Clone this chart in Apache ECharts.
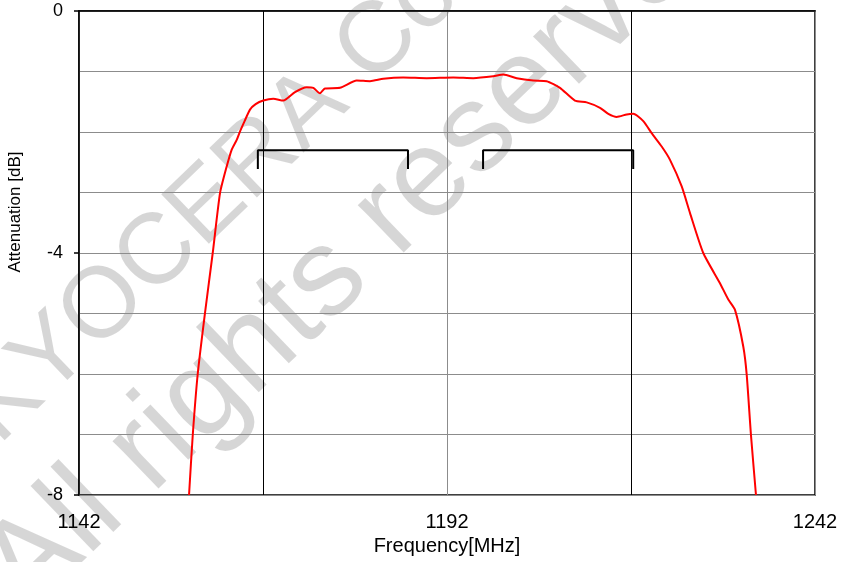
<!DOCTYPE html>
<html>
<head>
<meta charset="utf-8">
<script src="https://cdn.jsdelivr.net/npm/echarts@6/dist/echarts.min.js"></script>
<style>html,body{margin:0;padding:0;background:#fff;}#c{width:842px;height:562px;}</style>
</head>
<body>
<div id="c"></div>
<script>
// Frequency response (MHz, dB)
var freq = [1156.95, 1157.45, 1158.13, 1159.12, 1160.17, 1161.16, 1162.0, 1162.75, 1163.43, 1163.88, 1164.5, 1165.23, 1166.0, 1167.04, 1168.40, 1169.76, 1171.35, 1172.94, 1173.83, 1174.74, 1175.42, 1177.46, 1179.73, 1181.54, 1183.34, 1186.06, 1189.24, 1192.86, 1195.57, 1198.29, 1199.65, 1201.47, 1203.73, 1205.54, 1207.35, 1209.38, 1210.98, 1212.79, 1213.92, 1215.06, 1216.42, 1217.31, 1218.67, 1219.81, 1221.17, 1222.30, 1223.89, 1225.02, 1226.82, 1229.09, 1230.22, 1231.13, 1232.26, 1232.72, 1233.30, 1233.98];
var atten = [-8.0, -7.02, -6.00, -4.99, -4.00, -3.01, -2.60, -2.29, -2.13, -1.99, -1.82, -1.63, -1.54, -1.48, -1.45, -1.48, -1.34, -1.26, -1.27, -1.36, -1.28, -1.27, -1.15, -1.16, -1.12, -1.10, -1.11, -1.10, -1.11, -1.08, -1.05, -1.11, -1.15, -1.16, -1.27, -1.48, -1.51, -1.60, -1.70, -1.75, -1.71, -1.70, -1.82, -2.02, -2.24, -2.46, -2.90, -3.34, -4.00, -4.50, -4.77, -4.94, -5.55, -6.01, -7.01, -8.0];
// Passband brackets
var band1X = [1166.3, 1166.3, 1186.7, 1186.7];
var band2X = [1196.9, 1196.9, 1217.3, 1217.3];
var bandY = [-2.61, -2.30, -2.30, -2.61];
// Reference lines
var refLines = [1167, 1217];
// Axis labels
var xTickLabels = [1142, 1192, 1242];
var yTickLabels = [0, -4, -8];

function pairs(xs, ys) { return xs.map(function (x, i) { return [x, ys[i]]; }); }

var chart = echarts.init(document.getElementById('c'), null, {renderer: 'canvas'});
var font = 'Liberation Sans, Arial, sans-serif';
var wmRot = Math.PI / 4.1;
chart.setOption({
  animation: false,
  backgroundColor: '#fff',
  grid: {left: 79, top: 11, width: 736, height: 484, show: true, borderColor: '#000', borderWidth: 1.5, backgroundColor: 'transparent'},
  graphic: [
    {type: 'text', z: -10, x: -55, y: 390, rotation: wmRot,
      style: {text: 'KYOCERA Corporation', fill: 'rgba(0,0,0,0.16)', font: '100px Liberation Sans, Arial, sans-serif', textBaseline: 'bottom'}},
    {type: 'text', z: -10, x: -40, y: 545, rotation: wmRot,
      style: {text: 'All rights reserved', fill: 'rgba(0,0,0,0.16)', font: '125px Liberation Sans, Arial, sans-serif', textBaseline: 'bottom'}},
    {type: 'text', x: 15, y: 212, rotation: Math.PI / 2,
      style: {text: 'Attenuation [dB]', fill: '#000', font: '17px ' + font, textAlign: 'center', textVerticalAlign: 'middle'}}
  ],
  xAxis: {
    type: 'value', min: 1142, max: 1242, interval: 25,
    name: 'Frequency[MHz]', nameLocation: 'middle', nameGap: 40,
    nameTextStyle: {color: '#000', fontSize: 20, fontFamily: font},
    axisLine: {show: true, lineStyle: {color: '#000', width: 1.5}},
    axisTick: {show: false},
    axisLabel: {color: '#000', fontSize: 20, fontFamily: font, margin: 17,
      formatter: function (v) { return xTickLabels.indexOf(v) >= 0 ? String(v) : ''; }},
    splitLine: {show: true, lineStyle: {color: '#8c8c8c', width: 1}}
  },
  yAxis: [{
    type: 'value', min: -8, max: 0, interval: 1,
    axisLine: {show: true, lineStyle: {color: '#000', width: 1.5}},
    axisTick: {show: false},
    axisLabel: {show: false},
    splitLine: {show: true, lineStyle: {color: '#8c8c8c', width: 1}}
  }, {
    type: 'value', min: -8, max: 0, interval: 4, position: 'left',
    axisLine: {show: false},
    axisTick: {show: true, length: 5, lineStyle: {color: '#000', width: 1.5}},
    axisLabel: {color: '#000', fontSize: 18, fontFamily: font, margin: 16,
      formatter: function (v) { return yTickLabels.indexOf(v) >= 0 ? String(v) : ''; }},
    splitLine: {show: false}
  }],
  series: [
    {type: 'line', data: pairs(freq, atten), showSymbol: false, smooth: 0.2, z: 5,
      lineStyle: {color: '#ff0000', width: 2}, clip: true,
      markLine: {silent: true, symbol: 'none', label: {show: false},
        lineStyle: {color: '#000', width: 1, type: 'solid'},
        data: refLines.map(function (x) { return {xAxis: x}; })}},
    {type: 'line', data: pairs(band1X, bandY), showSymbol: false, z: 4,
      lineStyle: {color: '#000', width: 2}},
    {type: 'line', data: pairs(band2X, bandY), showSymbol: false, z: 4,
      lineStyle: {color: '#000', width: 2}}
  ]
});
</script>
</body>
</html>
